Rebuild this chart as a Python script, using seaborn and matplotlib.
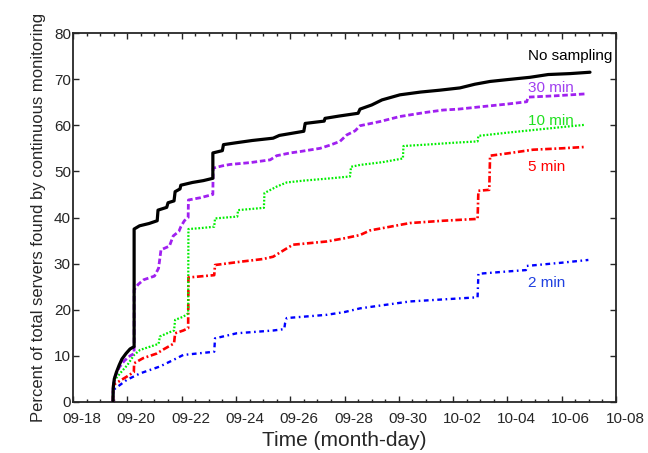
import numpy as np
import pandas as pd
import matplotlib
matplotlib.use('Agg')
import matplotlib.pyplot as plt
import matplotlib.transforms as mtransforms
import seaborn as sns
from matplotlib.ticker import MultipleLocator

# ── DATA (days since 09-18, percent of servers found) ─────────
# repeated day values mark the vertical jumps
nosamp_day = [1.47, 1.48, 1.52, 1.60, 1.70, 1.80, 1.95, 2.10, 2.25, 2.25, 2.45, 2.80,
              3.10, 3.13, 3.45, 3.50, 3.72, 3.76, 3.94, 3.97, 4.40, 4.80, 5.15, 5.15,
              5.50, 5.54, 6.00, 6.60, 7.37, 7.60, 8.10, 8.50, 8.55, 9.25, 9.28, 9.80,
              10.50, 10.57, 11.00, 11.38, 12.04, 12.80, 13.50, 14.25, 14.80, 15.36,
              16.00, 16.83, 17.50, 18.30, 19.04]
nosamp_pct = [0, 3.0, 5.0, 6.5, 8.0, 9.3, 10.5, 11.5, 12.0, 37.5, 38.2, 38.7,
              39.3, 41.6, 42.2, 43.2, 43.6, 45.6, 46.2, 47.0, 47.6, 48.0, 48.5, 54.0,
              54.5, 55.8, 56.2, 56.7, 57.2, 57.8, 58.3, 58.7, 60.4, 60.9, 61.5, 62.0,
              62.6, 63.5, 64.4, 65.5, 66.6, 67.2, 67.6, 68.1, 68.9, 69.5,
              69.9, 70.4, 71.0, 71.2, 71.5]

min30_day = [1.47, 1.48, 1.55, 1.70, 1.90, 2.10, 2.25, 2.25, 2.40, 2.60, 3.00, 3.15,
             3.24, 3.55, 3.69, 3.90, 3.97, 4.10, 4.24, 4.25, 4.70, 5.15, 5.16, 5.50,
             5.78, 6.52, 7.26, 7.50, 8.00, 8.36, 9.10, 9.47, 9.83, 10.08, 10.39, 10.57,
             11.30, 12.04, 13.00, 13.63, 14.20, 15.00, 16.00, 16.71, 16.76, 17.80, 18.86]
min30_pct = [0, 3.5, 5.5, 7.5, 9.0, 10.0, 10.5, 24.3, 25.5, 26.5, 27.3, 29.0,
             33.0, 33.8, 36.0, 37.0, 38.0, 39.3, 40.0, 43.8, 44.3, 45.0, 50.7, 51.2,
             51.5, 51.9, 52.5, 53.4, 54.0, 54.3, 55.0, 55.7, 56.5, 57.9, 58.8, 59.9,
             60.8, 61.9, 62.8, 63.3, 63.5, 64.0, 64.6, 65.1, 66.1, 66.4, 66.8]

min10_day = [1.47, 1.48, 1.79, 2.00, 2.25, 2.47, 2.84, 3.15, 3.20, 3.50, 3.72, 3.76,
             4.06, 4.24, 4.25, 4.70, 5.20, 5.23, 6.05, 6.08, 7.03, 7.05, 7.50, 7.87,
             8.50, 9.50, 10.20, 10.24, 10.57, 11.40, 12.15, 12.17, 13.00, 14.00,
             14.90, 14.93, 16.00, 17.00, 18.00, 18.86]
min10_pct = [0, 4.4, 6.6, 8.0, 10.2, 11.3, 12.0, 12.6, 14.2, 15.0, 15.5, 17.8,
             18.5, 19.2, 37.5, 37.7, 38.0, 39.8, 40.2, 41.6, 42.1, 45.3, 46.7, 47.6,
             48.0, 48.5, 48.9, 51.0, 51.4, 52.0, 52.8, 55.5, 55.8, 56.2,
             56.5, 57.7, 58.4, 59.0, 59.6, 60.1]

min5_day = [1.47, 1.48, 1.70, 1.98, 2.24, 2.25, 2.58, 3.08, 3.33, 3.72, 3.76, 4.06,
            4.24, 4.25, 5.20, 5.23, 6.15, 7.00, 7.37, 7.87, 8.10, 9.34, 10.00, 10.57,
            10.94, 12.41, 13.63, 14.90, 14.93, 15.33, 15.36, 16.00, 16.94, 18.00, 18.86]
min5_pct = [0, 3.7, 4.5, 5.5, 6.5, 8.4, 9.5, 10.5, 11.4, 12.7, 14.9, 15.5,
            16.0, 27.0, 27.5, 29.7, 30.4, 31.0, 31.5, 33.3, 34.1, 34.8, 35.5, 36.2,
            37.2, 38.8, 39.3, 39.7, 45.8, 46.0, 53.4, 53.9, 54.7, 55.0, 55.3]

min2_day = [1.47, 1.48, 1.98, 2.47, 3.20, 3.69, 4.06, 5.20, 5.23, 6.03, 7.37, 7.78,
            7.81, 7.87, 9.34, 10.00, 10.57, 12.41, 14.90, 14.93, 16.00, 16.68, 16.71,
            18.00, 18.98]
min2_pct = [0, 2.6, 4.8, 6.2, 7.7, 9.1, 10.2, 10.9, 13.8, 14.9, 15.5, 15.8,
            17.1, 18.2, 18.9, 19.5, 20.3, 21.8, 22.7, 27.8, 28.3, 28.6, 29.5,
            30.2, 30.8]

tick_days = [0, 2, 4, 6, 8, 10, 12, 14, 16, 18, 20]
tick_labels = ['09-18', '09-20', '09-22', '09-24', '09-26', '09-28',
               '09-30', '10-02', '10-04', '10-06', '10-08']

series_names = ['No sampling', '30 min', '10 min', '5 min', '2 min']
label_pos = [75.0, 68.1, 61.0, 51.0, 25.8]

# ── STYLE ──────────────────────────────────────────────────────
sns.set_style('ticks')
plt.rcParams['font.family'] = ['Liberation Sans', 'DejaVu Sans']

colors = ['black', '#a020f0', '#00ee00', '#ff0000', '#0000ff']
text_colors = ['black', '#a040f0', '#20e020', '#ff0000', '#2040e0']
styles = ['-', (0, (2, 1)), (0, (0.8, 0.8)), (0, (2.5, 1, 0.7, 1)), (0, (0.7, 1.5, 2, 1.5))]
widths = [2.3, 2.0, 1.6, 1.9, 1.7]

fig = plt.figure(figsize=(6.48, 4.53), dpi=100)
ax = fig.add_axes([0.1127, 0.1126, 0.838, 0.8145])

curves = [(nosamp_day, nosamp_pct), (min30_day, min30_pct), (min10_day, min10_pct),
          (min5_day, min5_pct), (min2_day, min2_pct)]

for (d, p), c, ls, lw in zip(curves, colors, styles, widths):
    df = pd.DataFrame({'day': d, 'pct': p})
    sns.lineplot(data=df, x='day', y='pct', ax=ax, color=c, linestyle=ls,
                 linewidth=lw, estimator=None, sort=False)

# black on top
for i, line in enumerate(ax.get_lines()):
    line.set_zorder(10 - i)

for name, y, tc in zip(series_names, label_pos, text_colors):
    ax.text(16.76, y, name, color=tc, fontsize=11, ha='left', va='center')

ax.set_xlim(0, 20)
ax.set_ylim(0, 80)
ax.set_xticks(tick_days)
ax.set_xticklabels(tick_labels)
ax.xaxis.set_minor_locator(MultipleLocator(0.5))
ax.yaxis.set_major_locator(MultipleLocator(10))

ax.tick_params(axis='both', which='both', direction='in', top=True, right=True,
               labelsize=11, width=1.0)
ax.tick_params(axis='x', which='major', length=4.3, pad=7)
ax.tick_params(axis='y', which='major', length=4.3, pad=1.5)
ax.tick_params(axis='x', which='minor', length=2.4)

# x tick labels sit a little right of their ticks in the original
shift = mtransforms.ScaledTranslation(0.09, 0, fig.dpi_scale_trans)
for lbl in ax.get_xticklabels():
    lbl.set_transform(lbl.get_transform() + shift)

for sp in ax.spines.values():
    sp.set_visible(True)
    sp.set_linewidth(1.3)

ax.set_xlabel('Time (month-day)', fontsize=15, labelpad=4)
ax.set_ylabel('Percent of total servers found by continuous monitoring', fontsize=12, labelpad=6)

fig.savefig('out.png', dpi=100)
